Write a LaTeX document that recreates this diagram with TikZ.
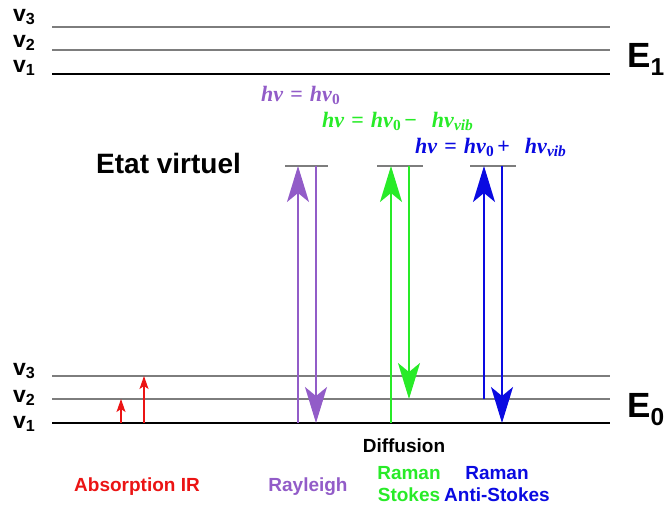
\documentclass[tikz,border=0pt]{standalone}
\usepackage{fontspec}
\setmainfont{Liberation Sans}
\newfontfamily\mathtxt{Liberation Serif}
\usetikzlibrary{arrows.meta}
\definecolor{cpurple}{RGB}{146,92,200}
\definecolor{cgreen}{RGB}{40,235,40}
\definecolor{cblue}{RGB}{10,10,225}
\definecolor{cred}{RGB}{235,20,20}
\definecolor{cgray}{RGB}{125,125,125}
\newcommand{\hnu}{\textit{hν}}
\newcommand{\hnuo}{\textit{hν}\textsubscript{0}}
\newcommand{\hnuv}{\textit{hν}\textsubscript{\textit{vib}}}
\newcommand{\eqsp}{\hspace{7pt}=\hspace{7pt}}
\newcommand{\opsp}[1]{\hspace{3pt}#1\hspace{15pt}}
\tikzset{
  lvl/.style={draw=cgray, line width=1.4pt},
  ground/.style={draw=black, line width=2.8pt},
  virt/.style={draw=cgray, line width=1.8pt},
  vlab/.style={font=\bfseries\fontsize{23}{23}\selectfont, anchor=base west, inner sep=0pt},
  elab/.style={font=\bfseries\fontsize{35}{35}\selectfont, anchor=base west, inner sep=0pt},
  big/.style={line width=1.8pt, -{Stealth[length=36pt, width=22pt, inset=9pt]}},
  small/.style={line width=1.1pt, -{Stealth[length=13pt, width=9pt, inset=3pt]}},
  mlab/.style={font=\mathtxt\bfseries\fontsize{22}{22}\selectfont, anchor=base west, inner sep=0pt},
  blab/.style={font=\bfseries\fontsize{19}{22}\selectfont, align=center, inner sep=0pt}
}
\begin{document}
\begin{tikzpicture}[x=1pt,y=-1pt]
\useasboundingbox (0,0) rectangle (665,507);
% upper levels
\coordinate (a3L) at (52,27);  \coordinate (a3R) at (610,27);
\coordinate (a2L) at (52,50);  \coordinate (a2R) at (610,50);
\coordinate (a1L) at (52,74);  \coordinate (a1R) at (610,74);
\draw[lvl] (a3L) -- (a3R);
\draw[lvl] (a2L) -- (a2R);
\draw[ground] (a1L) -- (a1R);
% lower levels
\coordinate (b3L) at (52,376); \coordinate (b3R) at (610,376);
\coordinate (b2L) at (52,399); \coordinate (b2R) at (610,399);
\coordinate (b1L) at (52,423); \coordinate (b1R) at (610,423);
\draw[lvl] (b3L) -- (b3R);
\draw[lvl] (b2L) -- (b2R);
\draw[ground] (b1L) -- (b1R);
% level labels
\node[vlab] (ta3) at (13,21) {v\textsubscript{3}};
\node[vlab] (ta2) at (13,47) {v\textsubscript{2}};
\node[vlab] (ta1) at (13,72) {v\textsubscript{1}};
\node[vlab] (tb3) at (13,375) {v\textsubscript{3}};
\node[vlab] (tb2) at (13,402) {v\textsubscript{2}};
\node[vlab] (tb1) at (13,428) {v\textsubscript{1}};
\node[elab] (e1) at (627,67) {E\textsubscript{1}};
\node[elab] (e0) at (627,417) {E\textsubscript{0}};
% virtual levels
\coordinate (pL) at (285,166); \coordinate (pR) at (328,166);
\coordinate (gL) at (377,166); \coordinate (gR) at (423,166);
\coordinate (uL) at (470,166); \coordinate (uR) at (516,166);
\draw[virt] (pL) -- (pR);
\draw[virt] (gL) -- (gR);
\draw[virt] (uL) -- (uR);
\node[font=\bfseries\fontsize{28}{28}\selectfont, anchor=base west, inner sep=0pt] (ev) at (96,173) {Etat virtuel};
% Rayleigh
\coordinate (p1b) at (298,423); \coordinate (p1t) at (298,166);
\coordinate (p2t) at (316,166); \coordinate (p2b) at (316,423);
\draw[big, cpurple] (p1b) -- (p1t);
\draw[big, cpurple] (p2t) -- (p2b);
% Stokes
\coordinate (g1b) at (391,423); \coordinate (g1t) at (391,166);
\coordinate (g2t) at (409,166); \coordinate (g2b) at (409,399);
\draw[big, cgreen] (g1b) -- (g1t);
\draw[big, cgreen] (g2t) -- (g2b);
% Anti-Stokes
\coordinate (u1b) at (484,399); \coordinate (u1t) at (484,166);
\coordinate (u2t) at (502,166); \coordinate (u2b) at (502,423);
\draw[big, cblue] (u1b) -- (u1t);
\draw[big, cblue] (u2t) -- (u2b);
% IR absorption
\coordinate (r1b) at (121,423); \coordinate (r1t) at (121,399);
\coordinate (r2b) at (144,423); \coordinate (r2t) at (144,376);
\draw[small, cred] (r1b) -- (r1t);
\draw[small, cred] (r2b) -- (r2t);
% formulas
\node[mlab, text=cpurple] (f1) at (261,101) {\hnu\eqsp\hnuo};
\node[mlab, text=cgreen] (f2) at (322,127) {\hnu\eqsp\hnuo\opsp{−}\hnuv};
\node[mlab, text=cblue] (f3) at (415,153) {\hnu\eqsp\hnuo\opsp{+}\hnuv};
% bottom labels
\node[blab] (diff) at (404,446) {Diffusion};
\node[blab, text=cred] (abs) at (137,487) {Absorption IR};
\node[blab, text=cpurple] (ray) at (308,487) {Rayleigh};
\node[blab, text=cgreen] (sto) at (409,484) {Raman\\Stokes};
\node[blab, text=cblue] (ast) at (497,484) {Raman\\Anti-Stokes};
\end{tikzpicture}
\end{document}
